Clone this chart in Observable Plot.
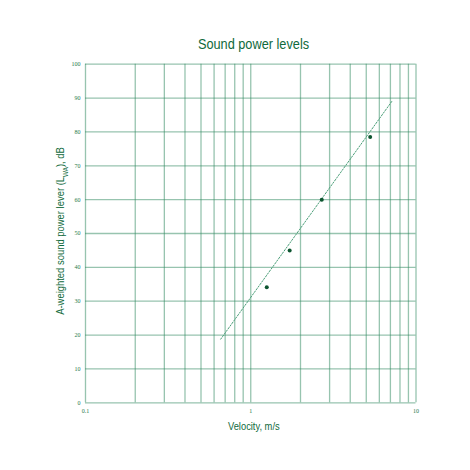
<!DOCTYPE html>
<html><head><meta charset="utf-8">
<script src="https://cdn.jsdelivr.net/npm/d3@7"></script>
<script src="https://cdn.jsdelivr.net/npm/@observablehq/plot@0.6"></script>
<style>body{margin:0;background:#fff}</style>
</head><body><div id="chart"></div>
<script>
const velocity = [1.25, 1.72, 2.69, 5.28];
const soundPower = [34.1, 45.0, 60.0, 78.5];
const trendVelocity = [0.658, 7.16];
const trendPower = [18.8, 89.1];
const xGrid = [0.1,0.2,0.3,0.4,0.5,0.6,0.7,0.8,0.9,1,2,3,4,5,6,7,8,9,10];
const xTicks = [0.1, 1, 10];
const yTicks = [0,10,20,30,40,50,60,70,80,90,100];

const gridColor = "#2f8a5f";
const textGreen = "#1f7a4c";

const points = velocity.map((v,i)=>({v, p: soundPower[i]}));
const trend = trendVelocity.map((v,i)=>({v, p: trendPower[i]}));

const chart = Plot.plot({
  width: 470, height: 470,
  marginLeft: 85, marginRight: 54.5, marginTop: 63.7, marginBottom: 67.7,
  style: {background: "#fff"},
  x: {type: "log", domain: [0.1, 10]},
  y: {domain: [0, 100]},
  marks: [
    Plot.ruleX(xGrid, {x: d=>d, stroke: gridColor, strokeOpacity: 0.5, strokeWidth: 1.3}),
    Plot.ruleY(yTicks, {y: d=>d, stroke: gridColor, strokeOpacity: 0.5, strokeWidth: 1.3}),
    Plot.line(trend, {x: "v", y: "p", stroke: "#4a9e78", strokeWidth: 1, strokeDasharray: "1.6,1.6"}),
    Plot.dot(points, {x: "v", y: "p", r: 2, fill: "#0d5530", stroke: "none"}),
    Plot.axisX({ticks: xTicks, tickFormat: d=>String(d), tickSize: 0, tickPadding: 6, fontSize: 6, fontFamily: "Liberation Serif", color: textGreen, label: null}),
    Plot.axisY({ticks: yTicks, tickSize: 0, tickPadding: 5, fontSize: 6, fontFamily: "Liberation Serif", color: textGreen, label: null})
  ]
});
document.getElementById("chart").appendChild(chart);

const svg = d3.select(chart);
const font = "'Liberation Sans', Arial, sans-serif";
svg.append("text").attr("transform", "translate(253.5,49.3) scale(0.85,1)").attr("text-anchor", "middle")
  .attr("font-family", font).attr("font-size", 15).attr("fill", "#0f6a3c")
  .text("Sound power levels");
svg.append("text").attr("transform", "translate(253.8,430.3) scale(0.89,1)").attr("text-anchor", "middle")
  .attr("font-family", font).attr("font-size", 10.5).attr("fill", "#0f6a3c")
  .text("Velocity, m/s");
const yl = svg.append("text").attr("transform", "translate(64,231) rotate(-90) scale(0.9,1)").attr("text-anchor", "middle")
  .attr("font-family", font).attr("font-size", 10.5).attr("fill", "#0f6a3c");
yl.append("tspan").text("A-weighted sound power lever (L");
yl.append("tspan").attr("baseline-shift", "sub").attr("font-size", 7).text("WA");
yl.append("tspan").text("), dB");
</script>
</body></html>
